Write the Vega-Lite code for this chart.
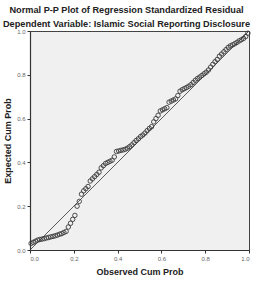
{
  "$schema": "https://vega.github.io/schema/vega-lite/v6.json",
  "autosize": {"type": "none"},
  "padding": {"left": 30, "top": 31, "right": 7, "bottom": 49},
  "width": 219,
  "height": 219,
  "background": "white",
  "title": {
    "text": ["Normal P-P Plot of Regression Standardized Residual", "Dependent Variable: Islamic Social Reporting Disclosure"],
    "font": "Liberation Sans",
    "fontSize": 9.2,
    "fontWeight": "bold",
    "color": "#222",
    "lineHeight": 14,
    "anchor": "middle",
    "dx": -13,
    "offset": -1.5
  },
  "config": {
    "view": {"fill": "#f0f0f0", "stroke": "#444", "strokeWidth": 1},
    "axis": {
      "domainColor": "#333",
      "domainWidth": 1.2,
      "tickColor": "#333",
      "tickSize": 3,
      "grid": false,
      "labelFont": "Liberation Sans",
      "labelFontSize": 6,
      "labelColor": "#666",
      "titleFont": "Liberation Sans",
      "titleFontSize": 9,
      "titleFontWeight": "bold",
      "titleColor": "#222"
    }
  },
  "datasets": {
    "residuals": [
      {"observed": 0.005, "expected": 0.030},
      {"observed": 0.015, "expected": 0.035},
      {"observed": 0.025, "expected": 0.040},
      {"observed": 0.035, "expected": 0.045},
      {"observed": 0.045, "expected": 0.048},
      {"observed": 0.055, "expected": 0.050},
      {"observed": 0.065, "expected": 0.052},
      {"observed": 0.075, "expected": 0.055},
      {"observed": 0.085, "expected": 0.057},
      {"observed": 0.095, "expected": 0.060},
      {"observed": 0.105, "expected": 0.062},
      {"observed": 0.115, "expected": 0.065},
      {"observed": 0.125, "expected": 0.068},
      {"observed": 0.135, "expected": 0.072},
      {"observed": 0.145, "expected": 0.075},
      {"observed": 0.155, "expected": 0.080},
      {"observed": 0.165, "expected": 0.085},
      {"observed": 0.175, "expected": 0.105},
      {"observed": 0.185, "expected": 0.122},
      {"observed": 0.195, "expected": 0.140},
      {"observed": 0.205, "expected": 0.158},
      {"observed": 0.215, "expected": 0.200},
      {"observed": 0.225, "expected": 0.222},
      {"observed": 0.235, "expected": 0.255},
      {"observed": 0.245, "expected": 0.270},
      {"observed": 0.255, "expected": 0.280},
      {"observed": 0.265, "expected": 0.290},
      {"observed": 0.275, "expected": 0.315},
      {"observed": 0.285, "expected": 0.325},
      {"observed": 0.295, "expected": 0.335},
      {"observed": 0.305, "expected": 0.345},
      {"observed": 0.315, "expected": 0.355},
      {"observed": 0.325, "expected": 0.375},
      {"observed": 0.335, "expected": 0.385},
      {"observed": 0.345, "expected": 0.395},
      {"observed": 0.355, "expected": 0.400},
      {"observed": 0.365, "expected": 0.405},
      {"observed": 0.375, "expected": 0.410},
      {"observed": 0.385, "expected": 0.425},
      {"observed": 0.395, "expected": 0.450},
      {"observed": 0.405, "expected": 0.452},
      {"observed": 0.415, "expected": 0.455},
      {"observed": 0.425, "expected": 0.457},
      {"observed": 0.435, "expected": 0.460},
      {"observed": 0.445, "expected": 0.465},
      {"observed": 0.455, "expected": 0.472},
      {"observed": 0.465, "expected": 0.480},
      {"observed": 0.475, "expected": 0.490},
      {"observed": 0.485, "expected": 0.500},
      {"observed": 0.495, "expected": 0.508},
      {"observed": 0.505, "expected": 0.518},
      {"observed": 0.515, "expected": 0.525},
      {"observed": 0.525, "expected": 0.534},
      {"observed": 0.535, "expected": 0.545},
      {"observed": 0.545, "expected": 0.555},
      {"observed": 0.555, "expected": 0.563},
      {"observed": 0.565, "expected": 0.585},
      {"observed": 0.575, "expected": 0.600},
      {"observed": 0.585, "expected": 0.615},
      {"observed": 0.595, "expected": 0.635},
      {"observed": 0.605, "expected": 0.640},
      {"observed": 0.615, "expected": 0.645},
      {"observed": 0.625, "expected": 0.650},
      {"observed": 0.635, "expected": 0.675},
      {"observed": 0.645, "expected": 0.680},
      {"observed": 0.655, "expected": 0.685},
      {"observed": 0.665, "expected": 0.690},
      {"observed": 0.675, "expected": 0.705},
      {"observed": 0.685, "expected": 0.725},
      {"observed": 0.695, "expected": 0.732},
      {"observed": 0.705, "expected": 0.737},
      {"observed": 0.715, "expected": 0.742},
      {"observed": 0.725, "expected": 0.748},
      {"observed": 0.735, "expected": 0.755},
      {"observed": 0.745, "expected": 0.765},
      {"observed": 0.755, "expected": 0.775},
      {"observed": 0.765, "expected": 0.783},
      {"observed": 0.775, "expected": 0.790},
      {"observed": 0.785, "expected": 0.797},
      {"observed": 0.795, "expected": 0.805},
      {"observed": 0.805, "expected": 0.812},
      {"observed": 0.815, "expected": 0.822},
      {"observed": 0.825, "expected": 0.835},
      {"observed": 0.835, "expected": 0.848},
      {"observed": 0.845, "expected": 0.860},
      {"observed": 0.855, "expected": 0.870},
      {"observed": 0.865, "expected": 0.885},
      {"observed": 0.875, "expected": 0.895},
      {"observed": 0.885, "expected": 0.905},
      {"observed": 0.895, "expected": 0.915},
      {"observed": 0.905, "expected": 0.925},
      {"observed": 0.915, "expected": 0.932},
      {"observed": 0.925, "expected": 0.937},
      {"observed": 0.935, "expected": 0.942},
      {"observed": 0.945, "expected": 0.948},
      {"observed": 0.955, "expected": 0.955},
      {"observed": 0.965, "expected": 0.960},
      {"observed": 0.975, "expected": 0.966},
      {"observed": 0.985, "expected": 0.975},
      {"observed": 0.995, "expected": 0.990}
    ],
    "diagonal": [
      {"p": 0},
      {"p": 1}
    ]
  },
  "layer": [
    {
      "data": {"name": "diagonal"},
      "mark": {"type": "line", "color": "#333", "strokeWidth": 0.8},
      "encoding": {
        "x": {"field": "p", "type": "quantitative"},
        "y": {"field": "p", "type": "quantitative"}
      }
    },
    {
      "data": {"name": "residuals"},
      "mark": {"type": "point", "shape": "circle", "filled": false, "stroke": "#3a3a3a", "strokeWidth": 0.9, "size": 20, "opacity": 1},
      "encoding": {
        "x": {
          "field": "observed",
          "type": "quantitative",
          "title": "Observed Cum Prob",
          "scale": {"domain": [0, 1], "nice": false, "zero": false},
          "axis": {"values": [0, 0.2, 0.4, 0.6, 0.8, 1], "format": ".1f", "titlePadding": 6, "labelPadding": 2}
        },
        "y": {
          "field": "expected",
          "type": "quantitative",
          "title": "Expected Cum Prob",
          "scale": {"domain": [0, 1], "nice": false, "zero": false},
          "axis": {"values": [0, 0.2, 0.4, 0.6, 0.8, 1], "format": ".1f", "titlePadding": 4, "labelPadding": 2}
        }
      }
    }
  ]
}
